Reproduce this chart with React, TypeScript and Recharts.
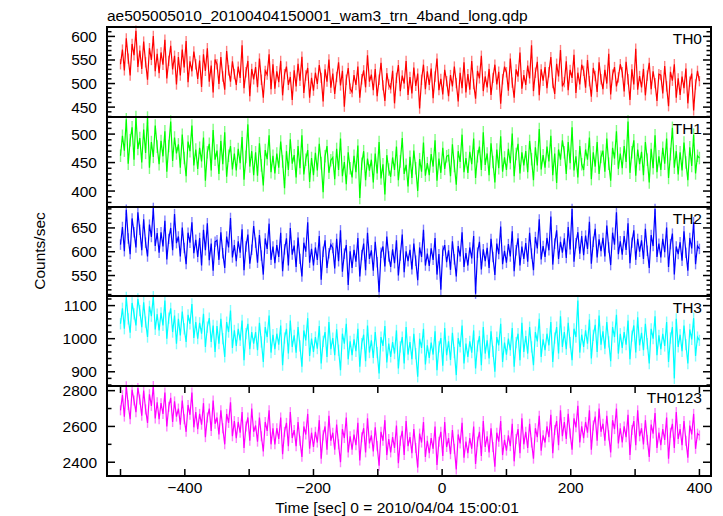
import React from 'react';
import { LineChart, Line, XAxis, YAxis, ErrorBar } from 'recharts';

// ---------- data ----------
const binStart = -500; // sec, first bin
const binWidth = 3; // sec

const th0 = [
  541, 572, 528, 596, 553, 517, 584, 560, 612, 535,
  570, 531, 589, 545, 508, 575, 550, 601, 526, 563,
  522, 566, 540, 593, 511, 548, 580, 530, 559, 498,
  556, 517, 572, 534, 590, 503, 547, 526, 568, 541,
  510, 549, 493, 562, 527, 575, 504, 538, 481, 551,
  541, 499, 556, 515, 487, 569, 528, 504, 547, 520,
  497, 536, 512, 581, 490, 524, 548, 473, 531, 509,
  535, 492, 553, 508, 470, 527, 519, 562, 488, 541,
  489, 526, 503, 548, 475, 520, 536, 497, 514, 465,
  528, 494, 542, 506, 557, 480, 517, 533, 470, 512,
  485, 523, 499, 539, 512, 462, 530, 504, 551, 491,
  521, 478, 514, 545, 496, 527, 451, 508, 533, 489,
  482, 518, 497, 536, 470, 509, 528, 492, 560, 504,
  519, 486, 531, 473, 508, 544, 496, 463, 522, 498,
  490, 527, 458, 512, 539, 484, 517, 500, 548, 476,
  514, 479, 534, 495, 521, 447, 508, 540, 488, 526,
  497, 532, 469, 515, 553, 486, 510, 477, 529, 505,
  473, 518, 494, 536, 501, 462, 523, 490, 545, 481,
  520, 487, 548, 499, 468, 527, 511, 559, 484, 515,
  492, 531, 476, 512, 540, 498, 525, 457, 509, 536,
  524, 485, 553, 502, 470, 530, 515, 566, 489, 518,
  497, 538, 511, 581, 484, 523, 546, 475, 530, 506,
  535, 490, 524, 556, 501, 478, 542, 515, 571, 494,
  503, 547, 486, 529, 512, 561, 480, 523, 498, 540,
  527, 491, 550, 505, 472, 533, 516, 482, 545, 509,
  488, 529, 500, 563, 477, 519, 535, 494, 513, 541,
  524, 483, 546, 509, 465, 530, 498, 574, 487, 516,
  492, 531, 475, 517, 544, 488, 526, 501, 463, 520,
  518, 479, 537, 494, 452, 525, 506, 541, 470, 511,
  476, 515, 490, 532, 458, 504, 521, 443, 498, 527,
  505,
];

const th1 = [
  462, 497, 471, 526, 448, 489, 512, 455, 530, 474,
  493, 450, 508, 467, 529, 441, 486, 460, 515, 478,
  447, 488, 461, 505, 434, 479, 522, 453, 494, 466,
  482, 441, 499, 458, 426, 487, 470, 515, 445, 473,
  439, 476, 452, 494, 418, 468, 483, 436, 507, 455,
  471, 430, 488, 447, 503, 425, 462, 479, 438, 466,
  436, 474, 449, 495, 420, 460, 517, 443, 470, 428,
  468, 427, 484, 445, 410, 472, 456, 498, 433, 462,
  431, 466, 441, 487, 452, 405, 470, 437, 491, 448,
  463, 424, 479, 440, 498, 429, 455, 472, 416, 458,
  428, 467, 436, 483, 449, 398, 461, 479, 432, 454,
  459, 421, 474, 437, 492, 426, 451, 412, 468, 440,
  424, 462, 433, 480, 388, 448, 470, 419, 457, 436,
  455, 415, 466, 431, 486, 422, 447, 394, 463, 438,
  425, 459, 437, 478, 419, 452, 493, 430, 446, 408,
  460, 423, 471, 440, 400, 456, 434, 485, 427, 449,
  428, 465, 443, 489, 418, 457, 432, 476, 439, 461,
  463, 426, 482, 444, 411, 470, 451, 499, 433, 458,
  432, 469, 447, 492, 423, 461, 478, 437, 503, 446,
  466, 428, 484, 451, 415, 473, 440, 496, 434, 459,
  437, 474, 449, 501, 426, 465, 483, 431, 468, 445,
  470, 433, 488, 456, 419, 477, 445, 509, 438, 463,
  441, 478, 452, 497, 428, 466, 414, 473, 455, 489,
  468, 430, 486, 449, 512, 436, 461, 424, 479, 447,
  437, 473, 455, 494, 421, 468, 443, 486, 430, 460,
  471, 434, 492, 448, 418, 476, 457, 505, 439, 466,
  440, 479, 451, 522, 432, 468, 489, 427, 473, 447,
  469, 428, 486, 455, 415, 474, 440, 498, 433, 461,
  437, 476, 448, 492, 423, 465, 511, 441, 470, 429,
  468, 436, 485, 450, 419, 477, 444, 499, 431, 462,
  458,
];

const th2 = [
  615, 652, 601, 688, 628, 595, 670, 641, 609, 683,
  646, 603, 668, 619, 590, 657, 631, 692, 612, 639,
  598, 641, 611, 665, 584, 627, 650, 603, 679, 618,
  632, 590, 651, 608, 574, 640, 619, 662, 597, 625,
  589, 629, 571, 646, 603, 660, 582, 617, 560, 621,
  624, 583, 641, 597, 566, 632, 609, 671, 588, 614,
  580, 622, 598, 647, 561, 611, 636, 575, 604, 654,
  619, 577, 635, 592, 552, 628, 606, 659, 583, 611,
  576, 614, 589, 640, 559, 605, 628, 571, 650, 594,
  613, 568, 630, 585, 548, 619, 600, 662, 577, 606,
  571, 609, 583, 633, 541, 600, 624, 566, 597, 615,
  608, 565, 627, 580, 645, 558, 596, 614, 530, 601,
  566, 604, 579, 629, 548, 593, 617, 561, 640, 585,
  603, 560, 621, 578, 515, 598, 611, 569, 632, 590,
  568, 605, 576, 624, 550, 592, 636, 557, 601, 580,
  604, 563, 617, 581, 540, 609, 589, 646, 571, 596,
  570, 607, 583, 629, 552, 595, 520, 602, 614, 578,
  603, 562, 622, 584, 548, 612, 590, 641, 568, 597,
  571, 609, 586, 633, 512, 598, 621, 563, 605, 580,
  608, 566, 627, 589, 551, 617, 595, 653, 574, 602,
  577, 616, 590, 643, 559, 603, 628, 571, 611, 585,
  618, 579, 640, 596, 561, 631, 607, 668, 584, 612,
  589, 629, 603, 674, 573, 617, 645, 585, 621, 598,
  628, 587, 652, 605, 690, 579, 618, 641, 596, 633,
  593, 634, 606, 663, 575, 621, 648, 588, 626, 601,
  629, 590, 655, 609, 572, 640, 615, 683, 595, 622,
  594, 633, 604, 660, 576, 619, 645, 583, 627, 600,
  624, 585, 648, 602, 566, 635, 612, 690, 589, 617,
  588, 627, 599, 651, 568, 616, 638, 552, 611, 595,
  620, 581, 643, 598, 560, 629, 607, 662, 574, 612,
  606,
];

const th3 = [
  1045, 1092, 1030, 1125, 1060, 1018, 1108, 1075, 1040, 1120,
  1085, 1035, 1110, 1050, 1005, 1098, 1068, 1127, 1028, 1074,
  1025, 1078, 1040, 1115, 1000, 1062, 1092, 1020, 1070, 985,
  1060, 1010, 1082, 1030, 990, 1072, 1045, 1105, 1002, 1050,
  1000, 1048, 1015, 1075, 975, 1035, 1062, 990, 1040, 960,
  1038, 985, 1060, 1000, 945, 1050, 1020, 1085, 972, 1025,
  978, 1030, 995, 1055, 935, 1015, 1045, 968, 1020, 985,
  1020, 965, 1048, 990, 930, 1035, 1005, 1070, 958, 1012,
  968, 1015, 982, 1040, 920, 1002, 1030, 955, 1055, 975,
  1010, 958, 1035, 978, 915, 1025, 995, 1062, 948, 1000,
  960, 1005, 970, 1038, 925, 992, 1020, 945, 1050, 968,
  1002, 950, 1028, 965, 905, 1015, 985, 1045, 938, 992,
  950, 998, 962, 1030, 915, 985, 1012, 932, 1040, 958,
  995, 942, 1020, 958, 895, 1005, 978, 1038, 928, 985,
  945, 990, 955, 1025, 910, 975, 1005, 925, 1035, 952,
  990, 938, 1015, 955, 885, 1000, 972, 1030, 922, 980,
  942, 988, 952, 1022, 905, 975, 1002, 918, 1032, 950,
  992, 936, 1018, 958, 890, 1002, 975, 1040, 925, 985,
  945, 992, 958, 1025, 910, 978, 1008, 920, 1035, 955,
  995, 940, 1022, 962, 900, 1005, 980, 1045, 930, 988,
  952, 1000, 965, 1032, 915, 988, 1015, 935, 1048, 960,
  1008, 955, 1035, 975, 920, 1020, 992, 1060, 945, 998,
  965, 1015, 980, 1050, 930, 1002, 1035, 955, 1068, 975,
  1020, 968, 1048, 988, 935, 1030, 1005, 1115, 958, 1012,
  975, 1025, 985, 1058, 940, 1010, 1042, 960, 1070, 982,
  1022, 970, 1050, 990, 932, 1035, 1005, 1072, 955, 1015,
  972, 1020, 982, 1055, 938, 1008, 1040, 958, 1065, 980,
  1018, 965, 1045, 985, 925, 1030, 1000, 1068, 950, 1010,
  968, 1015, 978, 1050, 930, 1002, 1035, 880, 1060, 975,
  1012, 962, 1040, 982, 925, 1028, 998, 1062, 948, 1005,
  995,
];

const th0123 = [
  2690, 2775, 2655, 2825, 2720, 2640, 2805, 2745, 2680, 2815,
  2750, 2660, 2800, 2695, 2620, 2780, 2715, 2826, 2645, 2735,
  2640, 2730, 2670, 2790, 2600, 2710, 2760, 2625, 2740, 2655,
  2700, 2610, 2745, 2640, 2570, 2720, 2665, 2790, 2595, 2680,
  2585, 2670, 2610, 2730, 2540, 2650, 2700, 2575, 2745, 2615,
  2650, 2555, 2690, 2590, 2500, 2670, 2620, 2735, 2545, 2630,
  2535, 2625, 2565, 2680, 2480, 2600, 2650, 2520, 2700, 2570,
  2605, 2515, 2650, 2545, 2460, 2625, 2575, 2690, 2500, 2590,
  2500, 2590, 2530, 2650, 2445, 2570, 2620, 2490, 2680, 2535,
  2580, 2490, 2625, 2520, 2430, 2600, 2555, 2670, 2475, 2565,
  2485, 2570, 2510, 2635, 2420, 2550, 2600, 2470, 2660, 2520,
  2565, 2470, 2610, 2500, 2400, 2585, 2535, 2650, 2455, 2545,
  2470, 2555, 2495, 2620, 2410, 2540, 2590, 2455, 2645, 2505,
  2550, 2460, 2595, 2490, 2380, 2570, 2520, 2635, 2440, 2530,
  2455, 2540, 2480, 2605, 2395, 2520, 2575, 2440, 2630, 2490,
  2540, 2450, 2585, 2480, 2370, 2560, 2510, 2625, 2430, 2520,
  2450, 2535, 2475, 2600, 2385, 2515, 2570, 2435, 2625, 2485,
  2535, 2445, 2580, 2475, 2360, 2555, 2505, 2620, 2425, 2515,
  2450, 2535, 2475, 2600, 2390, 2515, 2570, 2435, 2630, 2485,
  2545, 2455, 2590, 2485, 2375, 2565, 2515, 2630, 2440, 2525,
  2465, 2550, 2490, 2615, 2405, 2530, 2585, 2450, 2645, 2500,
  2570, 2480, 2615, 2510, 2420, 2590, 2540, 2660, 2465, 2550,
  2510, 2600, 2540, 2665, 2450, 2580, 2630, 2495, 2690, 2545,
  2625, 2530, 2670, 2560, 2470, 2645, 2595, 2715, 2510, 2600,
  2535, 2625, 2565, 2690, 2470, 2605, 2655, 2520, 2700, 2570,
  2615, 2520, 2660, 2550, 2455, 2635, 2585, 2700, 2505, 2590,
  2510, 2600, 2540, 2665, 2440, 2580, 2630, 2495, 2690, 2545,
  2590, 2500, 2635, 2525, 2430, 2610, 2560, 2675, 2480, 2565,
  2495, 2585, 2525, 2650, 2420, 2565, 2615, 2480, 2680, 2530,
  2585, 2495, 2630, 2520, 2425, 2605, 2555, 2670, 2475, 2560,
  2550,
];

// one-sigma error per band (counts/sec)
const errTH0 = 11;
const errTH1 = 11;
const errTH2 = 11;
const errTH3 = 17;
const errTH0123 = 28;

const bandNames = ['TH0', 'TH1', 'TH2', 'TH3', 'TH0123'];

const xTicks = [-500, -400, -300, -200, -100, 0, 100, 200, 300, 400];
const xTickLabels = [-400, -200, 0, 200, 400];
const xDomain: [number, number] = [-521, 418];

const yMajor = [
  [450, 500, 550, 600],
  [400, 450, 500],
  [550, 600, 650],
  [900, 1000, 1100],
  [2400, 2600, 2800],
];
const yMinor = [
  [430, 440, 460, 470, 480, 490, 510, 520, 530, 540, 560, 570, 580, 590, 610, 620],
  [380, 390, 410, 420, 430, 440, 460, 470, 480, 490, 510, 520, 530],
  [510, 520, 530, 540, 560, 570, 580, 590, 610, 620, 630, 640, 660, 670, 680, 690],
  [860, 880, 920, 940, 960, 980, 1020, 1040, 1060, 1080, 1120],
  [2500, 2700],
];
const yDomains: [number, number][] = [
  [429, 620],
  [372, 530],
  [507, 694],
  [857, 1129],
  [2323, 2826],
];

const title = 'ae505005010_20100404150001_wam3_trn_4band_long.qdp';
const yLabel = 'Counts/sec';
const xLabel = 'Time [sec] 0 = 2010/04/04 15:00:01';

// ---------- styles / layout ----------
const FONT = '"Liberation Sans", Arial, Helvetica, sans-serif';
const FS = 15.5;
const colors = ['#ff0000', '#00ff00', '#0000ff', '#00ffff', '#ff00ff'];
const lightColors = ['#ff8080', '#80ff80', '#8080ff', '#80ffff', '#ff80ff'];
const panelTops = [27, 117, 207, 296, 386];
const panelBottom = 476;
const W = 723;
const H = 516;
const LEFT = 107;
const RIGHT = 711;
const PAD = 10;
const XLABEL_H = 40;
const FRAME_W = 2;
const TICK_W = 1.5;

const series = [th0, th1, th2, th3, th0123];
const errs = [errTH0, errTH1, errTH2, errTH3, errTH0123];

const fmtX = (v: number) => (v < 0 ? '\u2212' + Math.abs(v) : String(v));

// y tick: mark drawn inward from the left frame and mirrored on the right frame
const makeYTick = (major: number[]) => (props: any) => {
  const y = Number(props.y);
  const value = props.payload.value;
  const isMajor = major.includes(value);
  const len = isMajor ? 8 : 4.5;
  return (
    <g>
      <rect x={LEFT} y={y - TICK_W / 2} width={len} height={TICK_W} fill="#000" />
      <rect x={RIGHT - len} y={y - TICK_W / 2} width={len} height={TICK_W} fill="#000" />
      {isMajor ? (
        <text x={LEFT - 10} y={y} dy={5.5} textAnchor="end" fontSize={FS} fontFamily={FONT} fill="#000">
          {value}
        </text>
      ) : null}
    </g>
  );
};

const makeXTick = (plotTop: number, plotBottom: number, showLabels: boolean) => (props: any) => {
  const x = Number(props.x);
  const value = props.payload.value;
  const labelled = showLabels && xTickLabels.includes(value);
  return (
    <g>
      <rect x={x - TICK_W / 2} y={plotBottom - 7} width={TICK_W} height={7} fill="#000" />
      <rect x={x - TICK_W / 2} y={plotTop} width={TICK_W} height={7} fill="#000" />
      {labelled ? (
        <text x={x} y={plotBottom + 17} textAnchor="middle" fontSize={FS} fontFamily={FONT} fill="#000">
          {fmtX(value)}
        </text>
      ) : null}
    </g>
  );
};

function Panel({ idx }: { idx: number }) {
  const isLast = idx === series.length - 1;
  const top = panelTops[idx];
  const bottom = isLast ? panelBottom : panelTops[idx + 1];
  const plotH = bottom - top;
  const chartH = PAD + plotH + (isLast ? XLABEL_H : PAD);
  const data = series[idx].map((v, i) => ({ t: binStart + i * binWidth, v, e: errs[idx] }));
  const ticks = [...yMajor[idx], ...yMinor[idx]];
  return (
    <div style={{ position: 'absolute', left: 0, top: top - PAD, width: W, height: chartH }}>
      <LineChart
        width={W}
        height={chartH}
        data={data}
        margin={{ top: PAD, right: W - RIGHT, bottom: isLast ? 0 : PAD, left: 0 }}
      >
        <XAxis
          dataKey="t"
          type="number"
          orientation="bottom"
          domain={xDomain}
          allowDataOverflow
          ticks={xTicks}
          interval={0}
          height={isLast ? XLABEL_H : 0}
          tickSize={0}
          tickMargin={0}
          tickLine={false}
          axisLine={false}
          tick={makeXTick(PAD, PAD + plotH, isLast)}
        />
        <YAxis
          type="number"
          orientation="left"
          domain={yDomains[idx]}
          allowDataOverflow
          ticks={ticks}
          interval={0}
          width={LEFT}
          tickSize={0}
          tickMargin={0}
          tickLine={false}
          axisLine={false}
          tick={makeYTick(yMajor[idx])}
        />
        <Line
          dataKey="v"
          stroke={lightColors[idx]}
          strokeOpacity={0}
          dot={false}
          activeDot={false}
          isAnimationActive={false}
        >
          <ErrorBar
            dataKey="e"
            width={0}
            stroke={lightColors[idx]}
            strokeWidth={1.4}
            direction="y"
            isAnimationActive={false}
          />
        </Line>
        <Line
          dataKey="v"
          stroke={colors[idx]}
          strokeWidth={1.2}
          dot={false}
          activeDot={false}
          isAnimationActive={false}
        />
      </LineChart>
    </div>
  );
}

export default function App() {
  return (
    <div style={{ position: 'absolute', left: 0, top: 0, width: W, height: H, background: '#fff' }}>
      {series.map((_, i) => (
        <Panel key={bandNames[i]} idx={i} />
      ))}
      <svg width={W} height={H} style={{ position: 'absolute', left: 0, top: 0, pointerEvents: 'none' }}>
        {panelTops.map((t, i) => {
          const b = i === panelTops.length - 1 ? panelBottom : panelTops[i + 1];
          return (
            <g key={'frame' + i}>
              <rect x={LEFT - FRAME_W / 2} y={t - FRAME_W / 2} width={RIGHT - LEFT + FRAME_W} height={FRAME_W} fill="#000" />
              <rect x={LEFT - FRAME_W / 2} y={b - FRAME_W / 2} width={RIGHT - LEFT + FRAME_W} height={FRAME_W} fill="#000" />
              <rect x={LEFT - FRAME_W / 2} y={t} width={FRAME_W} height={b - t} fill="#000" />
              <rect x={RIGHT - FRAME_W / 2} y={t} width={FRAME_W} height={b - t} fill="#000" />
            </g>
          );
        })}
        <text x={LEFT} y={20.5} fontSize={FS} fontFamily={FONT} fill="#000">
          {title}
        </text>
        {bandNames.map((n, i) => (
          <text
            key={n}
            x={702}
            y={panelTops[i] + 16.5}
            textAnchor="end"
            fontSize={FS}
            fontFamily={FONT}
            fill="#000"
          >
            {n}
          </text>
        ))}
        <text
          x={45}
          y={251}
          textAnchor="middle"
          fontSize={FS}
          fontFamily={FONT}
          fill="#000"
          transform="rotate(-90 45 251)"
        >
          {yLabel}
        </text>
        <text x={397} y={513} textAnchor="middle" fontSize={FS} fontFamily={FONT} fill="#000">
          {xLabel}
        </text>
      </svg>
    </div>
  );
}
